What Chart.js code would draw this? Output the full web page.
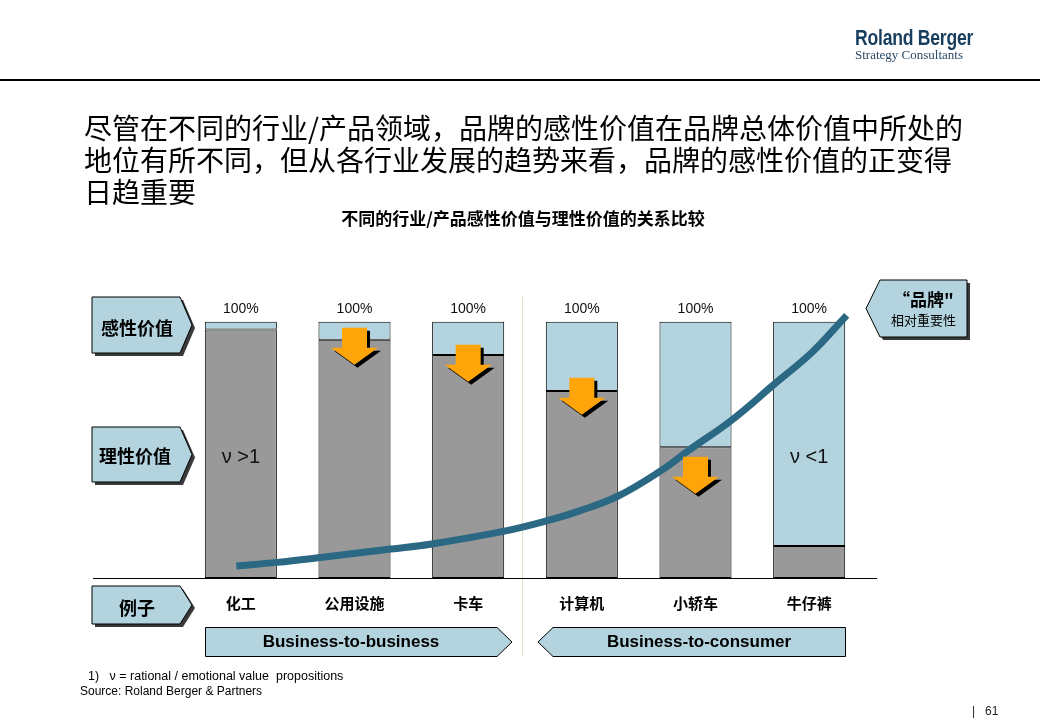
<!DOCTYPE html>
<html>
<head>
<meta charset="utf-8">
<script src="https://cdn.jsdelivr.net/npm/chart.js@4.4.0/dist/chart.umd.min.js"></script>
<style>
body { margin: 0; background: #fff; }
#wrap { position: relative; width: 1040px; height: 720px; overflow: hidden; font-family: "Noto Sans CJK SC", sans-serif; }
#c { position: absolute; left: 0; top: 0; }
.t { position: absolute; white-space: nowrap; color: #000; }
</style>
</head>
<body>
<div id="wrap">
<canvas id="c" width="1040" height="720"></canvas>

<div class="t" style="left:855px;top:25px;font:bold 22px/26px 'Liberation Sans',sans-serif;color:#173e5f;transform:scaleX(0.8);transform-origin:0 0;letter-spacing:-0.3px">Roland Berger</div>
<div class="t" style="left:855px;top:47px;font:13px/15px 'Liberation Serif','DejaVu Serif',serif;color:#2b4a66">Strategy Consultants</div>

<div class="t" style="left:84px;top:111px;font-size:28px;line-height:32px;">尽管在不同的行业/产品领域，品牌的感性价值在品牌总体价值中所处的<br>地位有所不同，但从各行业发展的趋势来看，品牌的感性价值的正变得<br>日趋重要</div>
<div class="t" style="left:300px;top:207px;width:446px;text-align:center;font-weight:bold;font-size:17px;line-height:22px;">不同的行业/产品感性价值与理性价值的关系比较</div>

<div class="t" style="left:92px;top:314px;width:90px;text-align:center;font-weight:bold;font-size:18px;line-height:26px;">感性价值</div>
<div class="t" style="left:90px;top:442px;width:90px;text-align:center;font-weight:bold;font-size:18px;line-height:26px;">理性价值</div>
<div class="t" style="left:92px;top:594px;width:90px;text-align:center;font-weight:bold;font-size:18px;line-height:26px;">例子</div>

<div class="t" style="left:880px;top:288px;width:87px;text-align:center;font-weight:bold;font-size:17px;line-height:22px;">“品牌"</div>
<div class="t" style="left:880px;top:311px;width:87px;text-align:center;font-size:13px;line-height:18px;">相对重要性</div>

<div class="t" style="left:205px;top:630px;width:292px;text-align:center;font:bold 17px/24px 'Liberation Sans',Arial,sans-serif;">Business-to-business</div>
<div class="t" style="left:553px;top:630px;width:292px;text-align:center;font:bold 17px/24px 'Liberation Sans',Arial,sans-serif;">Business-to-consumer</div>

<div class="t" style="left:88px;top:669px;font:12.5px/15px 'Liberation Sans',sans-serif;">1)&nbsp;&nbsp; ν = rational / emotional value&nbsp; propositions</div>
<div class="t" style="left:80px;top:684px;font:12px/15px 'Liberation Sans',sans-serif;">Source: Roland Berger &amp; Partners</div>
<div class="t" style="left:972px;top:704px;font:12px/15px 'Liberation Sans',sans-serif;color:#222">|&nbsp;&nbsp; 61</div>
</div>

<script>
// data
const categories = ['化工', '公用设施', '卡车', '计算机', '小轿车', '牛仔裤'];
const rationalValues = [97, 93, 87, 73, 51, 12.5];
const emotionalValues = [3, 7, 13, 27, 49, 87.5];
const totalLabels = ['100%', '100%', '100%', '100%', '100%', '100%'];
// orange "shift" arrows: bar index and the level (in %) where the arrow starts
const arrowBars = [1, 2, 3, 4];
const arrowLevels = [97.7, 91.0, 78.1, 47.3];
const nuLabels = ['ν >1', '', '', '', '', 'ν <1'];
const nuLevel = 47;

// "brand relative importance" curve, x in category units
const curveX = [-0.04, 0.32, 0.70, 1.32, 1.68, 2.33, 2.69, 2.98, 3.32, 3.70, 3.94, 4.32, 4.70, 5.03, 5.33];
const curveY = [4.7, 6.1, 8.0, 11.3, 13.3, 18.4, 22.3, 26.2, 32.0, 42.0, 49.8, 61.7, 75.9, 88.3, 102.5];

const lightBlue = '#b3d4df';
const gray = '#999999';

function shape(ctx, pts, fill, shadow) {
    const path = (dx, dy) => {
        ctx.beginPath();
        pts.forEach((p, i) => i ? ctx.lineTo(p[0] + dx, p[1] + dy) : ctx.moveTo(p[0] + dx, p[1] + dy));
        ctx.closePath();
    };
    if (shadow) {
        path(3, 3);
        ctx.fillStyle = '#3a3a3a';
        ctx.fill();
    }
    path(0, 0);
    ctx.fillStyle = fill;
    ctx.fill();
    ctx.lineWidth = 1;
    ctx.strokeStyle = '#000';
    ctx.stroke();
}

function arrow(ctx, cx, ty, color, dx) {
    const x = cx + dx, y = ty + dx;
    ctx.beginPath();
    ctx.moveTo(x - 12.5, y);
    ctx.lineTo(x + 12.5, y);
    ctx.lineTo(x + 12.5, y + 20);
    ctx.lineTo(x + 23.5, y + 20);
    ctx.lineTo(x, y + 37);
    ctx.lineTo(x - 23.5, y + 20);
    ctx.lineTo(x - 12.5, y + 20);
    ctx.closePath();
    ctx.fillStyle = color;
    ctx.fill();
}

const decor = {
    id: 'decor',
    beforeDatasetsDraw(chart) {
        const ctx = chart.ctx;
        const xs = chart.scales.x;
        ctx.save();
        // header rule
        ctx.fillStyle = '#000';
        ctx.fillRect(0, 79, 1040, 2);
        // b2b / b2c separator
        const sx = Math.round((xs.getPixelForValue(2) + xs.getPixelForValue(3)) / 2) - 2.5;
        ctx.strokeStyle = '#e4e0c8';
        ctx.lineWidth = 1;
        ctx.beginPath();
        ctx.moveTo(sx, 297);
        ctx.lineTo(sx, 656);
        ctx.stroke();
        // label boxes
        shape(ctx, [[92, 297], [180, 297], [192, 325], [180, 353], [92, 353]], lightBlue, true);
        shape(ctx, [[92, 427], [180, 427], [192, 454.5], [180, 482], [92, 482]], lightBlue, true);
        shape(ctx, [[92, 586], [180, 586], [192, 605], [180, 624], [92, 624]], lightBlue, true);
        shape(ctx, [[880, 280], [967, 280], [967, 337], [880, 337], [866, 308.5]], lightBlue, true);
        shape(ctx, [[205.5, 627.5], [497, 627.5], [512, 642], [497, 656.5], [205.5, 656.5]], lightBlue, false);
        shape(ctx, [[538, 642], [553, 627.5], [845.5, 627.5], [845.5, 656.5], [553, 656.5]], lightBlue, false);
        ctx.restore();
    },
    afterDatasetsDraw(chart) {
        const ctx = chart.ctx;
        const xs = chart.scales.x, ys = chart.scales.y;
        ctx.save();
        // baseline
        ctx.strokeStyle = '#000';
        ctx.lineWidth = 1;
        ctx.beginPath();
        ctx.moveTo(93, Math.round(ys.getPixelForValue(0)) + 0.5);
        ctx.lineTo(877, Math.round(ys.getPixelForValue(0)) + 0.5);
        ctx.stroke();
        // orange arrows
        arrowBars.forEach((i, k) => {
            const cx = xs.getPixelForValue(i);
            const ty = ys.getPixelForValue(arrowLevels[k]);
            arrow(ctx, cx, ty, '#000', 3);
            arrow(ctx, cx, ty, '#ffa50a', 0);
        });
        // totals and ratio labels
        ctx.fillStyle = '#111';
        ctx.textAlign = 'center';
        ctx.textBaseline = 'middle';
        ctx.font = '14px "Liberation Sans", Arial, sans-serif';
        categories.forEach((c, i) => {
            const top = ys.getPixelForValue(rationalValues[i] + emotionalValues[i]);
            ctx.fillText(totalLabels[i], xs.getPixelForValue(i), top - 13);
        });
        ctx.font = '20px "Liberation Sans", Arial, sans-serif';
        nuLabels.forEach((t, i) => {
            if (t) ctx.fillText(t, xs.getPixelForValue(i), ys.getPixelForValue(nuLevel));
        });
        ctx.restore();
    }
};

new Chart(document.getElementById('c'), {
    type: 'bar',
    data: {
        labels: categories,
        datasets: [
            {
                label: '理性价值',
                data: rationalValues,
                stack: 'v',
                grouped: false,
                backgroundColor: gray,
                borderColor: '#000',
                borderWidth: 1,
                borderSkipped: false,
                categoryPercentage: 1,
                barPercentage: 0.634,
                order: 2
            },
            {
                label: '感性价值',
                data: emotionalValues,
                stack: 'v',
                grouped: false,
                backgroundColor: lightBlue,
                borderColor: '#000',
                borderWidth: 1,
                borderSkipped: false,
                categoryPercentage: 1,
                barPercentage: 0.634,
                order: 2
            },
            {
                type: 'line',
                label: '品牌相对重要性',
                data: curveX.map((x, i) => ({x: x, y: curveY[i]})),
                xAxisID: 'x2',
                yAxisID: 'y2',
                borderColor: '#2a6884',
                borderWidth: 7,
                pointRadius: 0,
                tension: 0.4,
                clip: false,
                order: 1
            }
        ]
    },
    options: {
        responsive: false,
        animation: false,
        layout: {padding: {left: 184, right: 174, top: 291, bottom: 102}},
        plugins: {legend: {display: false}, tooltip: {enabled: false}},
        scales: {
            x: {
                stacked: true,
                grid: {display: false, drawTicks: false},
                border: {display: false},
                ticks: {
                    color: '#000',
                    padding: 16,
                    font: {family: '"Noto Sans CJK SC", sans-serif', size: 15, weight: 'bold'}
                },
                afterFit: s => { s.height = 40; }
            },
            y: {stacked: true, min: 0, max: 112, display: false},
            x2: {type: 'linear', min: -0.5, max: 5.5, offset: false, display: false},
            y2: {type: 'linear', min: 0, max: 112, display: false}
        }
    },
    plugins: [decor]
});
</script>
</body>
</html>
